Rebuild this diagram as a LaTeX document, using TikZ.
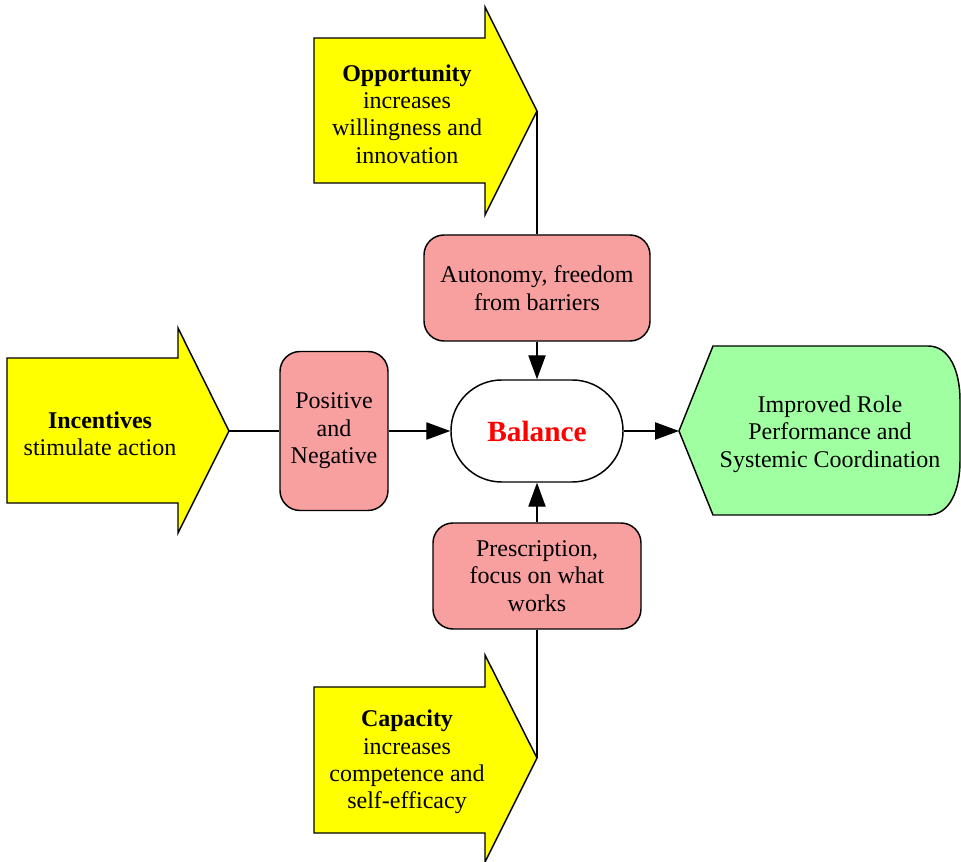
\documentclass[tikz,border=0pt]{standalone}
\usepackage{fontspec}
\setmainfont{Liberation Serif}
\usetikzlibrary{arrows.meta}
\definecolor{arrowyellow}{HTML}{FFFF00}
\definecolor{boxpink}{HTML}{F8A0A0}
\definecolor{outgreen}{HTML}{A0FFA0}
\begin{document}
\begin{tikzpicture}[x=0.75pt,y=-0.75pt,
  shapeline/.style={draw=black,line width=1.1pt,line join=miter},
  bigarrow/.style={shapeline,fill=arrowyellow},
  txt/.style={align=center,font=\fontsize{18}{20.6}\selectfont,inner sep=0pt},
  pinkbox/.style={shapeline,fill=boxpink,rounded corners=15pt,align=center,
    font=\fontsize{18}{20.6}\selectfont,inner sep=0pt},
  link/.style={draw=black,line width=0.9pt},
  flow/.style={link,-{Triangle[length=18pt,width=13pt]}}]
\useasboundingbox (0,0) rectangle (961,862);
% yellow input arrows
\path[bigarrow] (314,38) -- (485,38) -- (485,7) -- (537,111) -- (485,215) -- (485,183) -- (314,183) -- cycle;
\coordinate (oppTip) at (537,111);
\node[txt] (opp) at (407,114) {\textbf{Opportunity}\\increases\\willingness and\\innovation};

\path[bigarrow] (7,358) -- (178,358) -- (178,328) -- (229,431) -- (178,533) -- (178,503) -- (7,503) -- cycle;
\coordinate (incTip) at (229,431);
\node[txt] (inc) at (100,434) {\textbf{Incentives}\\stimulate action};

\path[bigarrow] (314,687) -- (485,687) -- (485,655) -- (537,758) -- (485,862) -- (485,833) -- (314,833) -- cycle;
\coordinate (capTip) at (537,758);
\node[txt] (cap) at (407,762) {\textbf{Capacity}\\increases\\competence and\\self-efficacy};

% pink boxes
\node[pinkbox,minimum width=169.5pt,minimum height=79.5pt] (auto) at (537,288) {Autonomy, freedom\\from barriers};
\node[pinkbox,minimum width=81pt,minimum height=119.25pt] (pos) at (334,431) {Positive\\and\\Negative};
\node[pinkbox,minimum width=156pt,minimum height=79.5pt] (pres) at (537,576) {Prescription,\\focus on what\\works};

% balance
\node[shapeline,fill=white,rounded corners=38pt,minimum width=129pt,minimum height=76.5pt,
  font=\fontsize{22}{24}\selectfont\bfseries,text=red,inner sep=0pt] (bal) at (537,431) {Balance};

% outcome
\path[shapeline,fill=outgreen] (713,346) -- (928,346) .. controls (950,346) and (960,372) .. (960,400)
  -- (960,461) .. controls (960,490) and (950,515) .. (928,515) -- (713,515) -- (679,431) -- cycle;
\coordinate (outL) at (679,431);
\node[txt] (out) at (830,434) {Improved Role\\Performance and\\Systemic Coordination};

% connectors
\draw[link] (oppTip) -- (auto.north);
\draw[flow] (auto.south) -- (bal.north);
\draw[link] (incTip) -- (pos.west);
\draw[flow] (pos.east) -- (bal.west);
\draw[link] (capTip) -- (pres.south);
\draw[flow] (pres.north) -- (bal.south);
\draw[flow] (bal.east) -- (outL);
\end{tikzpicture}
\end{document}
